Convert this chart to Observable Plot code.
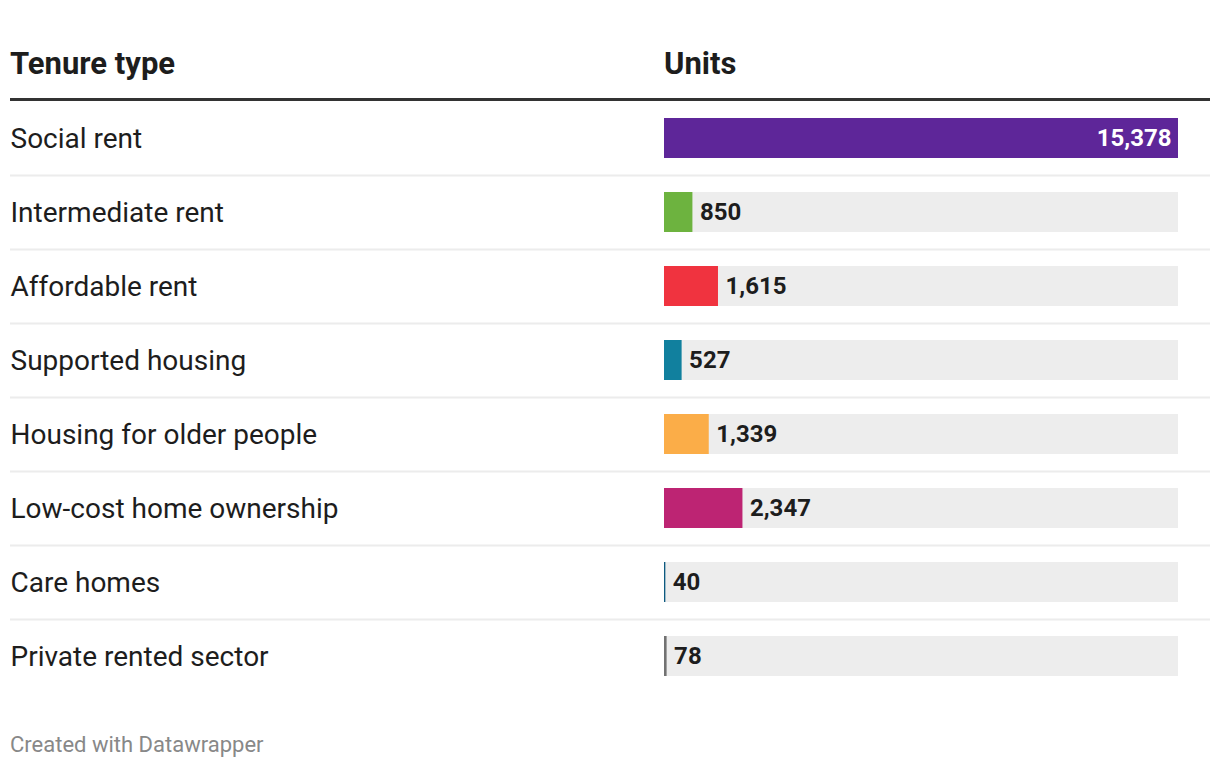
<!DOCTYPE html>
<html>
<head>
<meta charset="utf-8">
<script src="https://cdn.jsdelivr.net/npm/d3@7"></script>
<script src="https://cdn.jsdelivr.net/npm/@observablehq/plot@0.6"></script>
<style>
  html, body { margin: 0; padding: 0; background: #fff; }
  body { width: 1220px; height: 768px; position: relative; font-family: Roboto, "Noto Sans", sans-serif; color: #1d1d1d; }
  .hdr { position: absolute; top: 0; left: 10px; width: 1200px; height: 98px; border-bottom: 3px solid #333; }
  .hdr span { position: absolute; top: 44px; font-weight: 700; font-size: 31px; line-height: 40px; color: #1d1d1d; }
  #chart { position: absolute; top: 101px; left: 0; }
  .foot { position: absolute; left: 10px; top: 730px; font-size: 22px; line-height: 30px; color: #888; }
</style>
</head>
<body>
<div class="hdr"><span id="h1" style="left:0">Tenure type</span><span id="h2" style="left:654px">Units</span></div>
<div id="chart"></div>
<div class="foot">Created with Datawrapper</div>
<script>
const categories = ["Social rent", "Intermediate rent", "Affordable rent", "Supported housing", "Housing for older people", "Low-cost home ownership", "Care homes", "Private rented sector"];
const values = [15378, 850, 1615, 527, 1339, 2347, 40, 78];
const colors = ["#5e2699", "#6db33f", "#f0333f", "#11809e", "#fbad48", "#bd2473", "#0d5a80", "#727272"];
const headers = ["Tenure type", "Units"];

document.getElementById("h1").textContent = headers[0];
document.getElementById("h2").textContent = headers[1];

const rows = categories.map((c, i) => ({category: c, value: values[i], color: colors[i]}));
const maxV = d3.max(values);
const fmt = d3.format(",");

const chart = Plot.plot({
  width: 1220,
  height: 592,
  marginTop: 0,
  marginBottom: 0,
  marginLeft: 10,
  marginRight: 10,
  style: {fontFamily: "Roboto, sans-serif", background: "#fff"},
  x: {domain: [0, maxV], range: [664, 1178], axis: null},
  y: {domain: categories, padding: 0, axis: null},
  marks: [
    Plot.ruleY(categories.slice(0, -1), {y: d => d, dy: 37, stroke: "#ececec", strokeWidth: 2}),
    Plot.barX(rows, {y: "category", x1: 0, x2: maxV, fill: "#ededed", insetTop: 17, insetBottom: 17}),
    Plot.barX(rows, {y: "category", x1: 0, x2: "value", fill: "color", insetTop: 17, insetBottom: 17}),
    Plot.text(rows, {y: "category", text: "category", frameAnchor: "left", textAnchor: "start", dy: 1, fontSize: 28, fill: "#1d1d1d"}),
    Plot.text(rows.filter(d => d.value === maxV), {y: "category", x: "value", text: d => fmt(d.value), textAnchor: "end", dx: -7, fontSize: 24, fontWeight: 700, fill: "#fff"}),
    Plot.text(rows.filter(d => d.value !== maxV), {y: "category", x: "value", text: d => fmt(d.value), textAnchor: "start", dx: 7, fontSize: 24, fontWeight: 700, fill: "#1d1d1d"})
  ]
});
document.getElementById("chart").appendChild(chart);
</script>
</body>
</html>
